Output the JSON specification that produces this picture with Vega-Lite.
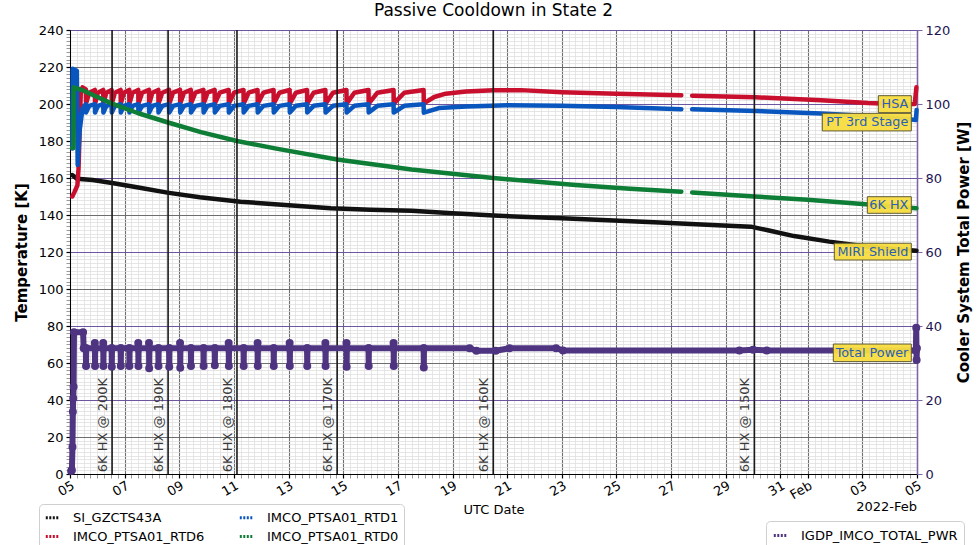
{
  "$schema": "https://vega.github.io/schema/vega-lite/v6.json",
  "width": 847,
  "height": 444,
  "autosize": {"type": "none"},
  "padding": {"left": 70, "top": 30, "right": 60, "bottom": 71},
  "title": {"text": "Passive Cooldown in State 2", "fontSize": 17, "fontWeight": "normal", "frame": "group", "anchor": "middle", "offset": 4, "color": "#000000", "font": "DejaVu Sans"},
  "config": {
    "font": "DejaVu Sans",
    "view": {"stroke": "#222222", "strokeWidth": 1},
    "axis": {"labelFont": "DejaVu Sans", "titleFont": "DejaVu Sans", "labelFontSize": 13, "labelColor": "#000000", "titleColor": "#000000"},
    "legend": {"labelFont": "DejaVu Sans"}
  },
  "datasets": {
    "black": [
      {"t": "2022-01-05T02:00Z", "v": 161.6},
      {"t": "2022-01-05T06:00Z", "v": 159.6},
      {"t": "2022-01-05T20:00Z", "v": 158.9},
      {"t": "2022-01-06T13:00Z", "v": 157.3},
      {"t": "2022-01-07T12:00Z", "v": 154.9},
      {"t": "2022-01-08T13:30Z", "v": 152.1},
      {"t": "2022-01-09T18:00Z", "v": 149.6},
      {"t": "2022-01-11T05:45Z", "v": 147.2},
      {"t": "2022-01-12T18:00Z", "v": 145.5},
      {"t": "2022-01-14T13:00Z", "v": 143.6},
      {"t": "2022-01-16T00:00Z", "v": 142.9},
      {"t": "2022-01-17T12:00Z", "v": 142.3},
      {"t": "2022-01-19T00:00Z", "v": 141.0},
      {"t": "2022-01-20T12:00Z", "v": 139.7},
      {"t": "2022-01-23T00:00Z", "v": 138.2},
      {"t": "2022-01-26T14:00Z", "v": 135.9},
      {"t": "2022-01-28T12:00Z", "v": 134.6},
      {"t": "2022-01-29T22:00Z", "v": 133.7},
      {"t": "2022-01-30T14:00Z", "v": 131.6},
      {"t": "2022-01-31T12:00Z", "v": 128.6},
      {"t": "2022-02-01T19:00Z", "v": 125.6},
      {"t": "2022-02-03T00:00Z", "v": 123.2},
      {"t": "2022-02-04T00:00Z", "v": 121.8},
      {"t": "2022-02-04T23:30Z", "v": 120.7}
    ],
    "red": [
      {"t": "2022-01-05T02:00Z", "v": 150.0},
      {"t": "2022-01-05T04:00Z", "v": 152.5},
      {"t": "2022-01-05T06:30Z", "v": 156.0},
      {"t": "2022-01-05T07:30Z", "v": 165.0},
      {"t": "2022-01-05T09:30Z", "v": 207.0},
      {"t": "2022-01-05T11:00Z", "v": 209.0},
      {"t": "2022-01-05T13:55Z", "v": 207.9},
      {"t": "2022-01-05T14:05Z", "v": 200.2},
      {"t": "2022-01-05T16:52Z", "v": 206.1},
      {"t": "2022-01-05T21:50Z", "v": 207.6},
      {"t": "2022-01-05T22:00Z", "v": 200.2},
      {"t": "2022-01-06T00:34Z", "v": 206.1},
      {"t": "2022-01-06T05:10Z", "v": 207.6},
      {"t": "2022-01-06T05:20Z", "v": 200.2},
      {"t": "2022-01-06T07:55Z", "v": 206.1},
      {"t": "2022-01-06T12:33Z", "v": 207.6},
      {"t": "2022-01-06T12:43Z", "v": 200.2},
      {"t": "2022-01-06T15:29Z", "v": 206.1},
      {"t": "2022-01-06T20:28Z", "v": 207.6},
      {"t": "2022-01-06T20:38Z", "v": 200.2},
      {"t": "2022-01-06T23:17Z", "v": 206.1},
      {"t": "2022-01-07T04:02Z", "v": 207.6},
      {"t": "2022-01-07T04:12Z", "v": 200.2},
      {"t": "2022-01-07T06:58Z", "v": 206.1},
      {"t": "2022-01-07T11:57Z", "v": 207.6},
      {"t": "2022-01-07T12:07Z", "v": 200.2},
      {"t": "2022-01-07T15:25Z", "v": 206.1},
      {"t": "2022-01-07T21:23Z", "v": 207.6},
      {"t": "2022-01-07T21:33Z", "v": 200.2},
      {"t": "2022-01-08T00:25Z", "v": 206.1},
      {"t": "2022-01-08T05:34Z", "v": 207.6},
      {"t": "2022-01-08T05:44Z", "v": 200.2},
      {"t": "2022-01-08T09:02Z", "v": 206.1},
      {"t": "2022-01-08T15:00Z", "v": 207.6},
      {"t": "2022-01-08T15:10Z", "v": 200.2},
      {"t": "2022-01-08T18:33Z", "v": 206.1},
      {"t": "2022-01-09T00:40Z", "v": 207.6},
      {"t": "2022-01-09T00:50Z", "v": 200.2},
      {"t": "2022-01-09T04:08Z", "v": 206.1},
      {"t": "2022-01-09T10:06Z", "v": 207.6},
      {"t": "2022-01-09T10:16Z", "v": 200.2},
      {"t": "2022-01-09T14:09Z", "v": 206.1},
      {"t": "2022-01-09T21:12Z", "v": 207.6},
      {"t": "2022-01-09T21:22Z", "v": 200.2},
      {"t": "2022-01-10T00:49Z", "v": 206.1},
      {"t": "2022-01-10T07:03Z", "v": 207.6},
      {"t": "2022-01-10T07:13Z", "v": 200.2},
      {"t": "2022-01-10T11:32Z", "v": 206.1},
      {"t": "2022-01-10T19:22Z", "v": 207.6},
      {"t": "2022-01-10T19:32Z", "v": 200.2},
      {"t": "2022-01-11T00:06Z", "v": 206.1},
      {"t": "2022-01-11T08:24Z", "v": 207.6},
      {"t": "2022-01-11T08:34Z", "v": 200.2},
      {"t": "2022-01-11T12:53Z", "v": 206.1},
      {"t": "2022-01-11T20:44Z", "v": 207.6},
      {"t": "2022-01-11T20:54Z", "v": 200.2},
      {"t": "2022-01-12T01:50Z", "v": 206.1},
      {"t": "2022-01-12T10:49Z", "v": 207.6},
      {"t": "2022-01-12T10:59Z", "v": 200.2},
      {"t": "2022-01-12T15:55Z", "v": 206.1},
      {"t": "2022-01-13T00:55Z", "v": 207.6},
      {"t": "2022-01-13T01:05Z", "v": 200.2},
      {"t": "2022-01-13T06:26Z", "v": 206.1},
      {"t": "2022-01-13T16:13Z", "v": 207.6},
      {"t": "2022-01-13T16:23Z", "v": 200.2},
      {"t": "2022-01-13T22:02Z", "v": 206.1},
      {"t": "2022-01-14T08:20Z", "v": 207.6},
      {"t": "2022-01-14T08:30Z", "v": 200.2},
      {"t": "2022-01-14T14:59Z", "v": 206.1},
      {"t": "2022-01-15T02:50Z", "v": 207.6},
      {"t": "2022-01-15T03:00Z", "v": 200.2},
      {"t": "2022-01-15T09:47Z", "v": 206.1},
      {"t": "2022-01-15T22:12Z", "v": 207.6},
      {"t": "2022-01-15T22:22Z", "v": 200.2},
      {"t": "2022-01-16T06:04Z", "v": 206.1},
      {"t": "2022-01-16T20:13Z", "v": 207.6},
      {"t": "2022-01-16T20:23Z", "v": 200.2},
      {"t": "2022-01-17T05:37Z", "v": 206.1},
      {"t": "2022-01-17T22:37Z", "v": 207.6},
      {"t": "2022-01-17T22:47Z", "v": 200.3},
      {"t": "2022-01-18T08:00Z", "v": 203.8},
      {"t": "2022-01-18T18:00Z", "v": 205.6},
      {"t": "2022-01-19T12:00Z", "v": 206.7},
      {"t": "2022-01-20T12:00Z", "v": 207.4},
      {"t": "2022-01-21T12:00Z", "v": 207.5},
      {"t": "2022-01-23T00:00Z", "v": 206.4},
      {"t": "2022-01-25T00:00Z", "v": 205.5},
      {"t": "2022-01-27T09:00Z", "v": 204.7},
      {"t": "2022-01-27T12:00Z", "v": null},
      {"t": "2022-01-27T18:30Z", "v": 204.5},
      {"t": "2022-01-30T02:24Z", "v": 203.6},
      {"t": "2022-02-01T12:00Z", "v": 202.0},
      {"t": "2022-02-03T05:00Z", "v": 200.5},
      {"t": "2022-02-04T12:00Z", "v": 199.8},
      {"t": "2022-02-04T22:00Z", "v": 200.0},
      {"t": "2022-02-04T23:30Z", "v": 209.0}
    ],
    "blue": [
      {"t": "2022-01-05T02:00Z", "v": 176.0},
      {"t": "2022-01-05T02:20Z", "v": 219.0},
      {"t": "2022-01-05T06:00Z", "v": 218.0},
      {"t": "2022-01-05T06:45Z", "v": 167.0},
      {"t": "2022-01-05T08:30Z", "v": 186.0},
      {"t": "2022-01-05T11:00Z", "v": 197.5},
      {"t": "2022-01-05T13:55Z", "v": 199.9},
      {"t": "2022-01-05T14:05Z", "v": 195.4},
      {"t": "2022-01-05T16:52Z", "v": 199.0},
      {"t": "2022-01-05T21:50Z", "v": 199.9},
      {"t": "2022-01-05T22:00Z", "v": 195.4},
      {"t": "2022-01-06T00:34Z", "v": 199.0},
      {"t": "2022-01-06T05:10Z", "v": 199.9},
      {"t": "2022-01-06T05:20Z", "v": 195.4},
      {"t": "2022-01-06T07:55Z", "v": 199.0},
      {"t": "2022-01-06T12:33Z", "v": 199.9},
      {"t": "2022-01-06T12:43Z", "v": 195.4},
      {"t": "2022-01-06T15:29Z", "v": 199.0},
      {"t": "2022-01-06T20:28Z", "v": 199.9},
      {"t": "2022-01-06T20:38Z", "v": 195.4},
      {"t": "2022-01-06T23:17Z", "v": 199.0},
      {"t": "2022-01-07T04:02Z", "v": 199.9},
      {"t": "2022-01-07T04:12Z", "v": 195.4},
      {"t": "2022-01-07T06:58Z", "v": 199.0},
      {"t": "2022-01-07T11:57Z", "v": 199.9},
      {"t": "2022-01-07T12:07Z", "v": 195.4},
      {"t": "2022-01-07T15:25Z", "v": 199.0},
      {"t": "2022-01-07T21:23Z", "v": 199.9},
      {"t": "2022-01-07T21:33Z", "v": 195.4},
      {"t": "2022-01-08T00:25Z", "v": 199.0},
      {"t": "2022-01-08T05:34Z", "v": 199.9},
      {"t": "2022-01-08T05:44Z", "v": 195.4},
      {"t": "2022-01-08T09:02Z", "v": 199.0},
      {"t": "2022-01-08T15:00Z", "v": 199.9},
      {"t": "2022-01-08T15:10Z", "v": 195.4},
      {"t": "2022-01-08T18:33Z", "v": 199.0},
      {"t": "2022-01-09T00:40Z", "v": 199.9},
      {"t": "2022-01-09T00:50Z", "v": 195.4},
      {"t": "2022-01-09T04:08Z", "v": 199.0},
      {"t": "2022-01-09T10:06Z", "v": 199.9},
      {"t": "2022-01-09T10:16Z", "v": 195.4},
      {"t": "2022-01-09T14:09Z", "v": 199.0},
      {"t": "2022-01-09T21:12Z", "v": 199.9},
      {"t": "2022-01-09T21:22Z", "v": 195.4},
      {"t": "2022-01-10T00:49Z", "v": 199.0},
      {"t": "2022-01-10T07:03Z", "v": 199.9},
      {"t": "2022-01-10T07:13Z", "v": 195.4},
      {"t": "2022-01-10T11:32Z", "v": 199.0},
      {"t": "2022-01-10T19:22Z", "v": 199.9},
      {"t": "2022-01-10T19:32Z", "v": 195.4},
      {"t": "2022-01-11T00:06Z", "v": 199.0},
      {"t": "2022-01-11T08:24Z", "v": 199.9},
      {"t": "2022-01-11T08:34Z", "v": 195.4},
      {"t": "2022-01-11T12:53Z", "v": 199.0},
      {"t": "2022-01-11T20:44Z", "v": 199.9},
      {"t": "2022-01-11T20:54Z", "v": 195.4},
      {"t": "2022-01-12T01:50Z", "v": 199.0},
      {"t": "2022-01-12T10:49Z", "v": 199.9},
      {"t": "2022-01-12T10:59Z", "v": 195.4},
      {"t": "2022-01-12T15:55Z", "v": 199.0},
      {"t": "2022-01-13T00:55Z", "v": 199.9},
      {"t": "2022-01-13T01:05Z", "v": 195.4},
      {"t": "2022-01-13T06:26Z", "v": 199.0},
      {"t": "2022-01-13T16:13Z", "v": 199.9},
      {"t": "2022-01-13T16:23Z", "v": 195.4},
      {"t": "2022-01-13T22:02Z", "v": 199.0},
      {"t": "2022-01-14T08:20Z", "v": 199.9},
      {"t": "2022-01-14T08:30Z", "v": 195.4},
      {"t": "2022-01-14T14:59Z", "v": 199.0},
      {"t": "2022-01-15T02:50Z", "v": 199.9},
      {"t": "2022-01-15T03:00Z", "v": 195.4},
      {"t": "2022-01-15T09:47Z", "v": 199.0},
      {"t": "2022-01-15T22:12Z", "v": 199.9},
      {"t": "2022-01-15T22:22Z", "v": 195.4},
      {"t": "2022-01-16T06:04Z", "v": 199.0},
      {"t": "2022-01-16T20:13Z", "v": 199.9},
      {"t": "2022-01-16T20:23Z", "v": 195.4},
      {"t": "2022-01-17T05:37Z", "v": 199.0},
      {"t": "2022-01-17T22:37Z", "v": 199.9},
      {"t": "2022-01-17T22:47Z", "v": 195.3},
      {"t": "2022-01-18T12:00Z", "v": 197.8},
      {"t": "2022-01-19T12:00Z", "v": 198.7},
      {"t": "2022-01-21T00:00Z", "v": 199.3},
      {"t": "2022-01-23T00:00Z", "v": 199.0},
      {"t": "2022-01-25T00:00Z", "v": 198.4},
      {"t": "2022-01-27T09:00Z", "v": 197.2},
      {"t": "2022-01-27T12:00Z", "v": null},
      {"t": "2022-01-27T18:30Z", "v": 197.1},
      {"t": "2022-01-30T02:24Z", "v": 196.2},
      {"t": "2022-02-01T12:00Z", "v": 194.9},
      {"t": "2022-02-03T05:00Z", "v": 193.5},
      {"t": "2022-02-04T17:00Z", "v": 191.8},
      {"t": "2022-02-04T23:00Z", "v": 191.4},
      {"t": "2022-02-04T23:40Z", "v": 196.8}
    ],
    "green": [
      {"t": "2022-01-05T02:00Z", "v": 176.2},
      {"t": "2022-01-05T03:00Z", "v": 176.2},
      {"t": "2022-01-05T03:15Z", "v": 209.0},
      {"t": "2022-01-05T12:00Z", "v": 207.2},
      {"t": "2022-01-06T00:00Z", "v": 203.8},
      {"t": "2022-01-06T13:00Z", "v": 200.2},
      {"t": "2022-01-07T12:00Z", "v": 195.0},
      {"t": "2022-01-08T14:10Z", "v": 190.0},
      {"t": "2022-01-09T19:00Z", "v": 184.8},
      {"t": "2022-01-11T02:40Z", "v": 180.0},
      {"t": "2022-01-12T12:00Z", "v": 176.0},
      {"t": "2022-01-14T18:40Z", "v": 170.0},
      {"t": "2022-01-17T12:00Z", "v": 164.6},
      {"t": "2022-01-20T11:45Z", "v": 160.0},
      {"t": "2022-01-23T12:00Z", "v": 156.2},
      {"t": "2022-01-25T12:00Z", "v": 154.2},
      {"t": "2022-01-27T09:00Z", "v": 152.6},
      {"t": "2022-01-27T12:00Z", "v": null},
      {"t": "2022-01-27T18:30Z", "v": 152.2},
      {"t": "2022-01-30T01:10Z", "v": 150.0},
      {"t": "2022-02-01T00:00Z", "v": 148.2},
      {"t": "2022-02-03T00:00Z", "v": 146.0},
      {"t": "2022-02-04T23:30Z", "v": 143.6}
    ],
    "power": [
      {"t": "2022-01-05T01:00Z", "w": 0.8},
      {"t": "2022-01-05T01:40Z", "w": 1.0},
      {"t": "2022-01-05T02:10Z", "w": 7.3},
      {"t": "2022-01-05T02:30Z", "w": 16.8},
      {"t": "2022-01-05T02:50Z", "w": 20.5},
      {"t": "2022-01-05T03:10Z", "w": 23.6},
      {"t": "2022-01-05T03:30Z", "w": 38.3},
      {"t": "2022-01-05T11:30Z", "w": 38.3},
      {"t": "2022-01-05T12:00Z", "w": 34.0},
      {"t": "2022-01-05T13:55Z", "w": 34.0},
      {"t": "2022-01-05T14:05Z", "w": 29.2},
      {"t": "2022-01-05T14:15Z", "w": 34.0},
      {"t": "2022-01-05T21:40Z", "w": 34.0},
      {"t": "2022-01-05T21:50Z", "w": 35.4},
      {"t": "2022-01-05T22:00Z", "w": 29.2},
      {"t": "2022-01-05T22:10Z", "w": 34.0},
      {"t": "2022-01-06T05:00Z", "w": 34.0},
      {"t": "2022-01-06T05:10Z", "w": 35.4},
      {"t": "2022-01-06T05:20Z", "w": 29.2},
      {"t": "2022-01-06T05:30Z", "w": 34.0},
      {"t": "2022-01-06T12:33Z", "w": 34.0},
      {"t": "2022-01-06T12:43Z", "w": 29.0},
      {"t": "2022-01-06T12:53Z", "w": 34.0},
      {"t": "2022-01-06T20:28Z", "w": 34.0},
      {"t": "2022-01-06T20:38Z", "w": 29.2},
      {"t": "2022-01-06T20:48Z", "w": 34.0},
      {"t": "2022-01-07T04:02Z", "w": 34.0},
      {"t": "2022-01-07T04:12Z", "w": 29.2},
      {"t": "2022-01-07T04:22Z", "w": 34.0},
      {"t": "2022-01-07T11:47Z", "w": 34.0},
      {"t": "2022-01-07T11:57Z", "w": 35.4},
      {"t": "2022-01-07T12:07Z", "w": 29.2},
      {"t": "2022-01-07T12:17Z", "w": 34.0},
      {"t": "2022-01-07T21:13Z", "w": 34.0},
      {"t": "2022-01-07T21:23Z", "w": 35.4},
      {"t": "2022-01-07T21:33Z", "w": 28.6},
      {"t": "2022-01-07T21:43Z", "w": 34.0},
      {"t": "2022-01-08T05:34Z", "w": 34.0},
      {"t": "2022-01-08T05:44Z", "w": 29.2},
      {"t": "2022-01-08T05:54Z", "w": 34.0},
      {"t": "2022-01-08T15:00Z", "w": 34.0},
      {"t": "2022-01-08T15:10Z", "w": 29.0},
      {"t": "2022-01-08T15:20Z", "w": 34.0},
      {"t": "2022-01-09T00:30Z", "w": 34.0},
      {"t": "2022-01-09T00:40Z", "w": 35.4},
      {"t": "2022-01-09T00:50Z", "w": 28.7},
      {"t": "2022-01-09T01:00Z", "w": 34.0},
      {"t": "2022-01-09T10:06Z", "w": 34.0},
      {"t": "2022-01-09T10:16Z", "w": 29.2},
      {"t": "2022-01-09T10:26Z", "w": 34.0},
      {"t": "2022-01-09T21:12Z", "w": 34.0},
      {"t": "2022-01-09T21:22Z", "w": 29.2},
      {"t": "2022-01-09T21:32Z", "w": 34.0},
      {"t": "2022-01-10T07:03Z", "w": 34.0},
      {"t": "2022-01-10T07:13Z", "w": 29.4},
      {"t": "2022-01-10T07:23Z", "w": 34.0},
      {"t": "2022-01-10T19:12Z", "w": 34.0},
      {"t": "2022-01-10T19:22Z", "w": 35.4},
      {"t": "2022-01-10T19:32Z", "w": 29.2},
      {"t": "2022-01-10T19:42Z", "w": 34.0},
      {"t": "2022-01-11T08:24Z", "w": 34.0},
      {"t": "2022-01-11T08:34Z", "w": 29.2},
      {"t": "2022-01-11T08:44Z", "w": 34.0},
      {"t": "2022-01-11T20:34Z", "w": 34.0},
      {"t": "2022-01-11T20:44Z", "w": 35.4},
      {"t": "2022-01-11T20:54Z", "w": 29.2},
      {"t": "2022-01-11T21:04Z", "w": 34.0},
      {"t": "2022-01-12T10:49Z", "w": 34.0},
      {"t": "2022-01-12T10:59Z", "w": 29.2},
      {"t": "2022-01-12T11:09Z", "w": 34.0},
      {"t": "2022-01-13T00:45Z", "w": 34.0},
      {"t": "2022-01-13T00:55Z", "w": 35.4},
      {"t": "2022-01-13T01:05Z", "w": 29.2},
      {"t": "2022-01-13T01:15Z", "w": 34.0},
      {"t": "2022-01-13T16:13Z", "w": 34.0},
      {"t": "2022-01-13T16:23Z", "w": 29.2},
      {"t": "2022-01-13T16:33Z", "w": 34.0},
      {"t": "2022-01-14T08:10Z", "w": 34.0},
      {"t": "2022-01-14T08:20Z", "w": 35.4},
      {"t": "2022-01-14T08:30Z", "w": 29.2},
      {"t": "2022-01-14T08:40Z", "w": 34.0},
      {"t": "2022-01-15T02:40Z", "w": 34.0},
      {"t": "2022-01-15T02:50Z", "w": 35.4},
      {"t": "2022-01-15T03:00Z", "w": 29.0},
      {"t": "2022-01-15T03:10Z", "w": 34.0},
      {"t": "2022-01-15T22:12Z", "w": 34.0},
      {"t": "2022-01-15T22:22Z", "w": 29.2},
      {"t": "2022-01-15T22:32Z", "w": 34.0},
      {"t": "2022-01-16T20:03Z", "w": 34.0},
      {"t": "2022-01-16T20:13Z", "w": 35.4},
      {"t": "2022-01-16T20:23Z", "w": 29.2},
      {"t": "2022-01-16T20:33Z", "w": 34.0},
      {"t": "2022-01-17T22:37Z", "w": 34.0},
      {"t": "2022-01-17T22:47Z", "w": 28.8},
      {"t": "2022-01-17T22:57Z", "w": 34.0},
      {"t": "2022-01-19T15:00Z", "w": 34.0},
      {"t": "2022-01-19T21:00Z", "w": 33.3},
      {"t": "2022-01-20T14:00Z", "w": 33.3},
      {"t": "2022-01-21T02:00Z", "w": 34.0},
      {"t": "2022-01-22T19:00Z", "w": 34.0},
      {"t": "2022-01-23T01:00Z", "w": 33.4},
      {"t": "2022-01-29T12:00Z", "w": 33.4},
      {"t": "2022-01-30T00:00Z", "w": 33.6},
      {"t": "2022-01-30T12:00Z", "w": 33.4},
      {"t": "2022-02-04T23:00Z", "w": 33.4},
      {"t": "2022-02-04T23:20Z", "w": 39.5},
      {"t": "2022-02-04T23:40Z", "w": 30.8},
      {"t": "2022-02-04T23:55Z", "w": 34.0}
    ],
    "events": [
      {"t": "2022-01-06T12:58Z", "label": "6K HX @ 200K"},
      {"t": "2022-01-08T14:10Z", "label": "6K HX @ 190K"},
      {"t": "2022-01-11T02:40Z", "label": "6K HX @ 180K"},
      {"t": "2022-01-14T18:40Z", "label": "6K HX @ 170K"},
      {"t": "2022-01-20T11:45Z", "label": "6K HX @ 160K"},
      {"t": "2022-01-30T01:10Z", "label": "6K HX @ 150K"}
    ],
    "labels": [
      {"t": "2022-02-04T19:00Z", "v": 199.9, "label": "HSA"},
      {"t": "2022-02-04T19:00Z", "v": 190.2, "label": "PT 3rd Stage"},
      {"t": "2022-02-04T19:00Z", "v": 145.4, "label": "6K HX"},
      {"t": "2022-02-04T19:00Z", "v": 120.2, "label": "MIRI Shield"},
      {"t": "2022-02-04T19:00Z", "v": 65.5, "label": "Total Power"}
    ],
    "offsettext": [
      {"t": "2022-02-05T00:00Z", "label": "2022-Feb"}
    ]
  },
  "layer": [
    {
      "layer": [
        {
          "data": {"name": "black"},
          "mark": {"type": "line", "strokeWidth": 4.5, "strokeJoin": "round", "strokeCap": "round", "invalid": "break-paths-show-domains"},
          "encoding": {
            "x": {
              "field": "t", "type": "temporal",
              "scale": {"type": "utc", "domain": [{"year": 2022, "month": 1, "date": 5, "utc": true}, {"year": 2022, "month": 2, "date": 5, "utc": true}]},
              "axis": {
                "title": "UTC Date", "titleFontSize": 13, "titleFontWeight": "normal", "titlePadding": 2,
                "tickCount": 400,
                "values": [1641340800000, 1641362400000, 1641384000000, 1641405600000, 1641427200000, 1641448800000, 1641470400000, 1641492000000, 1641513600000, 1641535200000, 1641556800000, 1641578400000, 1641600000000, 1641621600000, 1641643200000, 1641664800000, 1641686400000, 1641708000000, 1641729600000, 1641751200000, 1641772800000, 1641794400000, 1641816000000, 1641837600000, 1641859200000, 1641880800000, 1641902400000, 1641924000000, 1641945600000, 1641967200000, 1641988800000, 1642010400000, 1642032000000, 1642053600000, 1642075200000, 1642096800000, 1642118400000, 1642140000000, 1642161600000, 1642183200000, 1642204800000, 1642226400000, 1642248000000, 1642269600000, 1642291200000, 1642312800000, 1642334400000, 1642356000000, 1642377600000, 1642399200000, 1642420800000, 1642442400000, 1642464000000, 1642485600000, 1642507200000, 1642528800000, 1642550400000, 1642572000000, 1642593600000, 1642615200000, 1642636800000, 1642658400000, 1642680000000, 1642701600000, 1642723200000, 1642744800000, 1642766400000, 1642788000000, 1642809600000, 1642831200000, 1642852800000, 1642874400000, 1642896000000, 1642917600000, 1642939200000, 1642960800000, 1642982400000, 1643004000000, 1643025600000, 1643047200000, 1643068800000, 1643090400000, 1643112000000, 1643133600000, 1643155200000, 1643176800000, 1643198400000, 1643220000000, 1643241600000, 1643263200000, 1643284800000, 1643306400000, 1643328000000, 1643349600000, 1643371200000, 1643392800000, 1643414400000, 1643436000000, 1643457600000, 1643479200000, 1643500800000, 1643522400000, 1643544000000, 1643565600000, 1643587200000, 1643608800000, 1643630400000, 1643652000000, 1643673600000, 1643695200000, 1643716800000, 1643738400000, 1643760000000, 1643781600000, 1643803200000, 1643824800000, 1643846400000, 1643868000000, 1643889600000, 1643911200000, 1643932800000, 1643954400000, 1643976000000, 1643997600000, 1644019200000],
                "labelExpr": "utchours(datum.value) == 0 && utcdate(datum.value) % 2 == 1 ? (utcdate(datum.value) == 1 ? utcFormat(datum.value, '%b') : utcFormat(datum.value, '%d')) : ''",
                "labelAngle": -30, "labelAlign": "right", "labelBaseline": "top", "labelOverlap": false, "labelFlush": false, "labelBound": false, "labelPadding": 1, "labelFontSize": 13,
                "domainColor": "#000000", "tickSize": 4,
                "tickColor": {"condition": {"test": "utchours(datum.value) == 0 && utcdate(datum.value) % 2 == 1", "value": "#000000"}, "value": "#555555"},
                "tickWidth": {"condition": {"test": "utchours(datum.value) == 0 && utcdate(datum.value) % 2 == 1", "value": 1.2}, "value": 0.6},
                "grid": true,
                "gridColor": {"condition": {"test": "utchours(datum.value) == 0 && utcdate(datum.value) % 2 == 1", "value": "#6e6e6e"}, "value": "#e0e0e0"},
                "gridWidth": {"condition": {"test": "utchours(datum.value) == 0 && utcdate(datum.value) % 2 == 1", "value": 1.1}, "value": 0.8}
              }
            },
            "y": {
              "field": "v", "type": "quantitative",
              "scale": {"domain": [0, 240], "nice": false},
              "axis": {
                "title": "Temperature [K]", "titleFontSize": 15, "titleFontWeight": "bold", "titlePadding": 9,
                "tickCount": 120,
                "labelExpr": "datum.value % 20 == 0 ? datum.label : ''",
                "labelOverlap": false, "labelFontSize": 13, "labelPadding": 3,
                "domainColor": "#000000", "tickSize": 4,
                "tickColor": {"condition": {"test": "datum.value % 20 == 0", "value": "#000000"}, "value": "#555555"},
                "tickWidth": {"condition": {"test": "datum.value % 20 == 0", "value": 1.2}, "value": 0.6},
                "grid": true,
                "gridColor": {"condition": {"test": "datum.value % 20 == 0", "value": "#6e6e6e"}, "value": "#e0e0e0"},
                "gridWidth": {"condition": {"test": "datum.value % 20 == 0", "value": 1.1}, "value": 0.8}
              }
            },
            "color": {
              "datum": "SI_GZCTS43A", "type": "nominal",
              "scale": {"domain": ["SI_GZCTS43A", "IMCO_PTSA01_RTD6", "IMCO_PTSA01_RTD1", "IMCO_PTSA01_RTD0"], "range": ["#111111", "#c80f2e", "#0a56bf", "#0e7d36"]},
              "legend": {
                "orient": "none", "legendX": -31, "legendY": 474, "columns": 2, "title": null,
                "symbolType": "stroke", "symbolStrokeWidth": 3, "symbolDash": [2, 1.5], "symbolSize": 180,
                "labelFontSize": 13, "labelLimit": 300, "labelOffset": 12, "padding": 5, "rowPadding": 3, "columnPadding": 28,
                "fillColor": "#ffffff", "strokeColor": "#cfcfcf", "cornerRadius": 4
              }
            }
          }
        },
        {
          "data": {"name": "red"},
          "mark": {"type": "line", "strokeWidth": 4.5, "strokeJoin": "round", "strokeCap": "round", "invalid": "break-paths-show-domains"},
          "encoding": {
            "x": {"field": "t", "type": "temporal"},
            "y": {"field": "v", "type": "quantitative"},
            "color": {"datum": "IMCO_PTSA01_RTD6", "type": "nominal"}
          }
        },
        {
          "data": {"name": "blue"},
          "mark": {"type": "line", "strokeWidth": 4.5, "strokeJoin": "round", "strokeCap": "round", "invalid": "break-paths-show-domains"},
          "encoding": {
            "x": {"field": "t", "type": "temporal"},
            "y": {"field": "v", "type": "quantitative"},
            "color": {"datum": "IMCO_PTSA01_RTD1", "type": "nominal"}
          }
        },
        {
          "data": {"name": "green"},
          "mark": {"type": "line", "strokeWidth": 4.5, "strokeJoin": "round", "strokeCap": "round", "invalid": "break-paths-show-domains"},
          "encoding": {
            "x": {"field": "t", "type": "temporal"},
            "y": {"field": "v", "type": "quantitative"},
            "color": {"datum": "IMCO_PTSA01_RTD0", "type": "nominal"}
          }
        },
        {
          "data": {"name": "events"},
          "mark": {"type": "rule", "color": "#1a1a1a", "strokeWidth": 1.6},
          "encoding": {
            "x": {"field": "t", "type": "temporal"}
          }
        },
        {
          "data": {"name": "events"},
          "mark": {"type": "text", "angle": 270, "align": "left", "baseline": "bottom", "dy": -2, "fontSize": 13, "color": "#3a3a3a", "font": "DejaVu Sans"},
          "encoding": {
            "x": {"field": "t", "type": "temporal"},
            "y": {"datum": 1, "type": "quantitative"},
            "text": {"field": "label"}
          }
        }
      ]
    },
    {
      "data": {"name": "power"},
      "mark": {"type": "line", "strokeWidth": 6, "strokeJoin": "round", "point": {"filled": true, "fill": "#4e3481", "size": 36, "opacity": 1}},
      "encoding": {
        "x": {"field": "t", "type": "temporal"},
        "y": {
          "field": "w", "type": "quantitative",
          "scale": {"domain": [0, 120], "nice": false},
          "axis": {
            "orient": "right", "title": "Cooler System Total Power [W]", "titleFontSize": 15, "titleFontWeight": "bold",
            "titleAngle": -90, "titleBaseline": "top", "titlePadding": 7,
            "tickCount": 6, "labelFontSize": 13, "labelColor": "#1d1452", "labelPadding": 3,
            "domainColor": "#7c64a8", "domainWidth": 1.5, "tickColor": "#7c64a8", "tickSize": 5,
            "grid": true, "gridColor": "#6d55a0", "gridWidth": 1.2
          }
        },
        "stroke": {
          "datum": "IGDP_IMCO_TOTAL_PWR", "type": "nominal",
          "scale": {"domain": ["IGDP_IMCO_TOTAL_PWR"], "range": ["#4e3481"]},
          "legend": {
            "orient": "none", "legendX": 696, "legendY": 491, "title": null,
            "symbolType": "stroke", "symbolStrokeWidth": 3, "symbolDash": [2, 1.5], "symbolSize": 180,
            "labelFontSize": 13, "labelLimit": 300, "labelOffset": 12, "padding": 6,
            "fillColor": "#ffffff", "strokeColor": "#cfcfcf", "cornerRadius": 4
          }
        }
      }
    },
    {
      "layer": [
        {
          "data": {"name": "labels"},
          "mark": {"type": "point", "filled": true, "size": 4, "fill": "#f8dd40", "stroke": "#5e5a36", "strokeWidth": 1, "opacity": 1, "fillOpacity": 0.95},
          "encoding": {
            "x": {"field": "t", "type": "temporal"},
            "y": {"field": "v", "type": "quantitative", "scale": {"domain": [0, 240], "nice": false}, "axis": null},
            "shape": {
              "field": "label", "type": "nominal",
              "scale": {"domain": ["HSA", "PT 3rd Stage", "6K HX", "MIRI Shield", "Total Power"], "range": ["M-33,-8.5H0V8.5H-33Z", "M-89,-8.8H0V8.8H-89Z", "M-44,-8.3H0V8.3H-44Z", "M-77,-8.4H0V8.4H-77Z", "M-78,-8.8H0V8.8H-78Z"]},
              "legend": null
            }
          }
        },
        {
          "data": {"name": "labels"},
          "mark": {"type": "text", "align": "right", "baseline": "middle", "dx": -3, "fontSize": 12.8, "color": "#2a5fb5", "font": "DejaVu Sans"},
          "encoding": {
            "x": {"field": "t", "type": "temporal"},
            "y": {"field": "v", "type": "quantitative"},
            "text": {"field": "label"}
          }
        },
        {
          "data": {"name": "offsettext"},
          "mark": {"type": "text", "align": "right", "baseline": "middle", "fontSize": 13, "color": "#000000", "font": "DejaVu Sans"},
          "encoding": {
            "x": {"field": "t", "type": "temporal"},
            "y": {"datum": -18, "type": "quantitative"},
            "text": {"field": "label"}
          }
        }
      ]
    }
  ],
  "resolve": {"scale": {"y": "independent"}}
}
